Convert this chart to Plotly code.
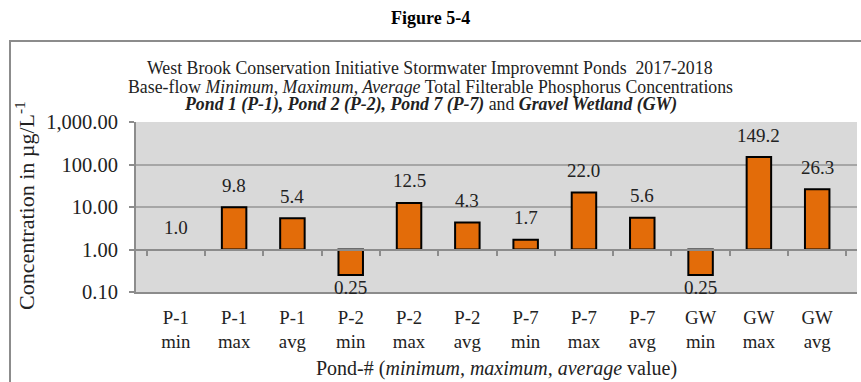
import math
import plotly.graph_objects as go

categories = ["P-1<br>min", "P-1<br>max", "P-1<br>avg",
              "P-2<br>min", "P-2<br>max", "P-2<br>avg",
              "P-7<br>min", "P-7<br>max", "P-7<br>avg",
              "GW<br>min", "GW<br>max", "GW<br>avg"]
values = [1.0, 9.8, 5.4, 0.25, 12.5, 4.3, 1.7, 22.0, 5.6, 0.25, 149.2, 26.3]
y_tickvals = [0.1, 1, 10, 100, 1000]
y_ticktext = ["0.10", "1.00", "10.00", "100.00", "1,000.00"]
baseline = 1.0

labels = [f"{v:.2f}" if v < 1 else f"{v:.1f}" for v in values]
lengths = [v - baseline for v in values]
outline_w = [0 if L == 0 else 2 for L in lengths]

FONT = "Liberation Serif"
W, H = 861, 382
ml, mr, mt, mb = 136, 4, 122, 90
pw = W - ml - mr
ph = H - mt - mb


def px_x(x):
    return (x - ml) / pw


def px_y(y):
    return (H - mb - y) / ph


fig = go.Figure()
fig.add_trace(go.Bar(
    x=categories, y=lengths, base=baseline, width=0.42,
    marker=dict(color="#E36C09", line=dict(color="#000000", width=outline_w)),
    hoverinfo="skip", showlegend=False,
))
# invisible trace to carry the crossing axis at 1.0
fig.add_trace(go.Scatter(x=categories, y=[baseline] * len(categories), xaxis="x2",
                         mode="markers", marker=dict(opacity=0), hoverinfo="skip",
                         showlegend=False))

# data labels
for c, v, lab in zip(categories, values, labels):
    above = v >= baseline
    fig.add_annotation(x=c, y=math.log10(v), text=lab, showarrow=False,
                       yanchor="middle", yshift=22 if above else -12,
                       font=dict(family=FONT, size=19, color="#222222"))

fig.update_layout(
    width=W, height=H,
    margin=dict(l=ml, r=mr, t=mt, b=mb),
    paper_bgcolor="white", plot_bgcolor="#d9d9d9",
    font=dict(family=FONT, size=19, color="#222222"),
    xaxis=dict(type="category", showline=True, linecolor="#8c8c8c", linewidth=2,
               ticks="", showgrid=False, tickfont=dict(size=18.8), mirror=False,
               ticklabelstandoff=7),
    xaxis2=dict(type="category", overlaying="x", anchor="free", position=0.25,
                showline=True, linecolor="#8c8c8c", linewidth=2,
                ticks="outside", tickson="boundaries", ticklen=5, tickwidth=2,
                tickcolor="#8c8c8c", showticklabels=False, showgrid=False,
                matches="x"),
    yaxis=dict(type="log", range=[-1, 3], tickvals=y_tickvals, ticktext=y_ticktext,
               showline=True, linecolor="#8c8c8c", linewidth=2,
               ticks="outside", ticklen=5, tickwidth=2, tickcolor="#8c8c8c",
               showgrid=True, gridcolor="#a6a6a6", gridwidth=2,
               tickfont=dict(size=20.5), zeroline=False, ticklabelstandoff=7),
)

# chart border
fig.add_shape(type="rect", xref="paper", yref="paper",
              x0=px_x(10), x1=px_x(W + 20), y0=px_y(H + 20), y1=px_y(41),
              line=dict(color="#8c8c8c", width=2), layer="below")

fig.add_annotation(text="<b>Figure 5-4</b>", xref="paper", yref="paper",
                   x=px_x(430), y=px_y(18), showarrow=False,
                   font=dict(size=18, family=FONT, color="#000000"),
                   xanchor="center", yanchor="middle")

title_lines = [
    "West Brook Conservation Initiative Stormwater Improvemnt Ponds  2017-2018",
    "Base-flow <i>Minimum, Maximum, Average</i> Total Filterable Phosphorus Concentrations",
    "<b><i>Pond 1 (P-1), Pond 2 (P-2), Pond 7 (P-7)</i></b> and <b><i>Gravel Wetland (GW)</i></b>",
]
for i, line in enumerate(title_lines):
    fig.add_annotation(text=line, xref="paper", yref="paper",
                       x=px_x(430), y=px_y(68 + 18.5 * i),
                       showarrow=False, font=dict(size=17.8, family=FONT, color="#222222"),
                       xanchor="center", yanchor="middle")

# axis titles
fig.add_annotation(text="Pond-# (<i>minimum, maximum, average</i> value)",
                   xref="paper", yref="paper", x=0.5, y=px_y(368),
                   showarrow=False, font=dict(size=20, family=FONT, color="#222222"),
                   xanchor="center", yanchor="middle")
fig.add_annotation(text="Concentration in µg/L<sup>-1</sup>",
                   xref="paper", yref="paper", x=px_x(25), y=px_y(206),
                   showarrow=False, textangle=-90,
                   font=dict(size=22, family=FONT, color="#222222"),
                   xanchor="center", yanchor="middle")

fig.write_html("out.html")
